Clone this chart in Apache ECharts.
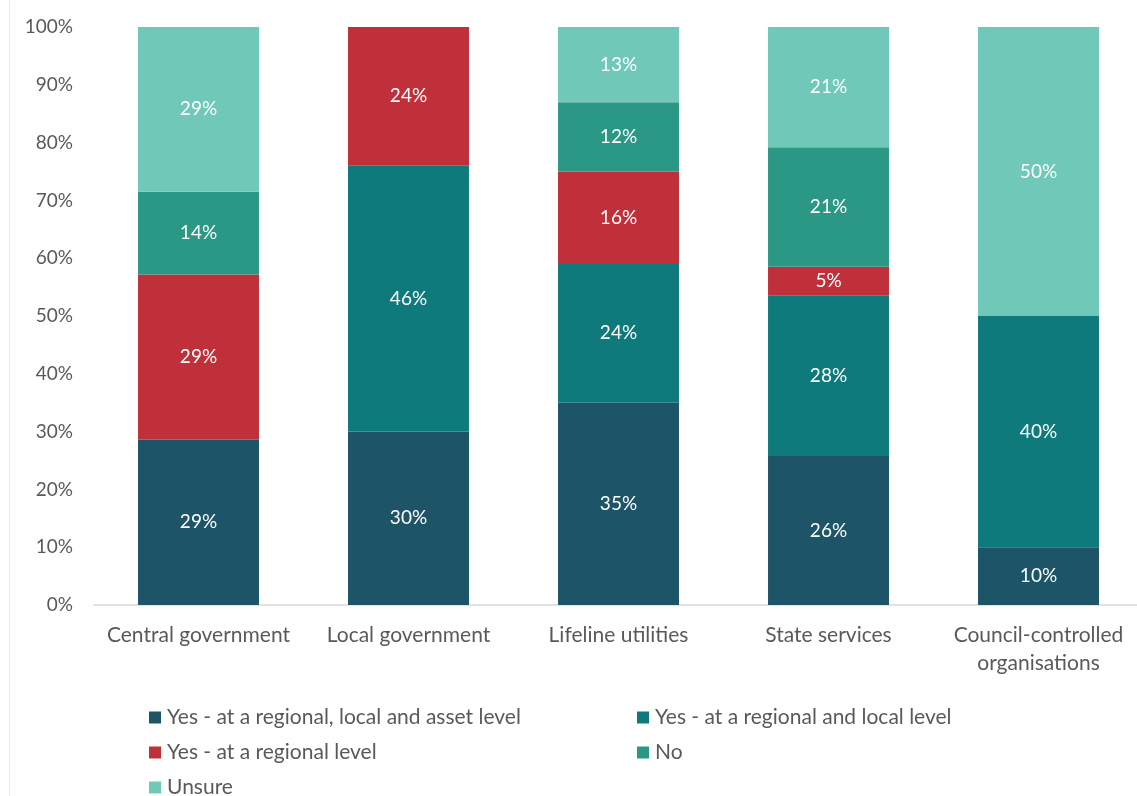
<!DOCTYPE html>
<html>
<head>
<meta charset="utf-8">
<script src="https://cdn.jsdelivr.net/npm/echarts@6/dist/echarts.min.js"></script>
<style>
  html, body { margin: 0; padding: 0; background: #ffffff; }
  #chart { width: 1137px; height: 796px; }
</style>
</head>
<body>
<div id="chart"></div>
<script>
// Organisation types
const categories = ['Central government', 'Local government', 'Lifeline utilities', 'State services', 'Council-controlled\norganisations'];

// Share of respondents (%) for each answer
const regionalLocalAsset = [28.6, 30, 35, 25.8, 10];
const regionalLocal      = [0, 46, 24, 27.8, 40];
const regionalOnly       = [28.6, 24, 16, 4.9, 0];
const noAnswer           = [14.3, 0, 12, 20.7, 0];
const unsure             = [28.5, 0, 13, 20.8, 50];

const seriesNames = [
  'Yes - at a regional, local and asset level',
  'Yes - at a regional and local level',
  'Yes - at a regional level',
  'No',
  'Unsure'
];
const seriesColors = ['#1d5468', '#0f7a7b', '#c0303b', '#2b9886', '#6fc8b8'];
const seriesData = [regionalLocalAsset, regionalLocal, regionalOnly, noAnswer, unsure];

const yTicks = [0, 10, 20, 30, 40, 50, 60, 70, 80, 90, 100];

const font = 'Lato, "Open Sans", sans-serif';
const textGray = '#595959';

// Legend placement: two columns, three rows
const legendSlots = [
  { left: 149, top: 707 },
  { left: 637, top: 707 },
  { left: 149, top: 742 },
  { left: 637, top: 742 },
  { left: 149, top: 777 }
];

const chart = echarts.init(document.getElementById('chart'), null, { renderer: 'canvas' });

const series = seriesNames.map((name, i) => ({
  name: name,
  type: 'bar',
  stack: 'total',
  barCategoryGap: '42.4%',
  data: seriesData[i],
  itemStyle: { color: seriesColors[i] },
  label: {
    show: true,
    position: 'inside',
    color: '#ffffff',
    fontFamily: font,
    fontSize: 19,
    formatter: p => (p.value > 0 ? Math.round(p.value) + '%' : '')
  }
}));

const legends = seriesNames.map((name, i) => ({
  data: [name],
  orient: 'horizontal',
  left: legendSlots[i].left,
  top: legendSlots[i].top,
  padding: 0,
  itemWidth: 12,
  itemHeight: 12,
  icon: 'rect',
  textStyle: { color: textGray, fontFamily: font, fontSize: 21, padding: [0, 0, 0, 1] }
}));

chart.setOption({
  animation: false,
  backgroundColor: '#ffffff',
  // the plot runs a few pixels past the right edge of the canvas
  grid: { left: 93.5, right: -6.5, top: 27, bottom: 191, outerBoundsMode: 'none', containLabel: false },
  xAxis: {
    type: 'category',
    data: categories,
    axisLine: { lineStyle: { color: '#d9d9d9', width: 1.5 } },
    axisTick: { show: false },
    axisLabel: {
      color: textGray,
      fontFamily: font,
      fontSize: 21,
      margin: 16,
      lineHeight: 28,
      interval: 0
    }
  },
  yAxis: {
    type: 'value',
    min: yTicks[0],
    max: yTicks[yTicks.length - 1],
    interval: 10,
    axisLine: { show: false },
    axisTick: { show: false },
    splitLine: { show: false },
    axisLabel: {
      color: textGray,
      fontFamily: font,
      fontSize: 19,
      margin: 20.5,
      formatter: v => v + '%'
    }
  },
  legend: legends,
  graphic: [
    {
      type: 'line',
      shape: { x1: 9.5, y1: 0, x2: 9.5, y2: 796 },
      style: { stroke: '#ececec', lineWidth: 1 },
      silent: true
    }
  ],
  series: series
});
</script>
</body>
</html>
